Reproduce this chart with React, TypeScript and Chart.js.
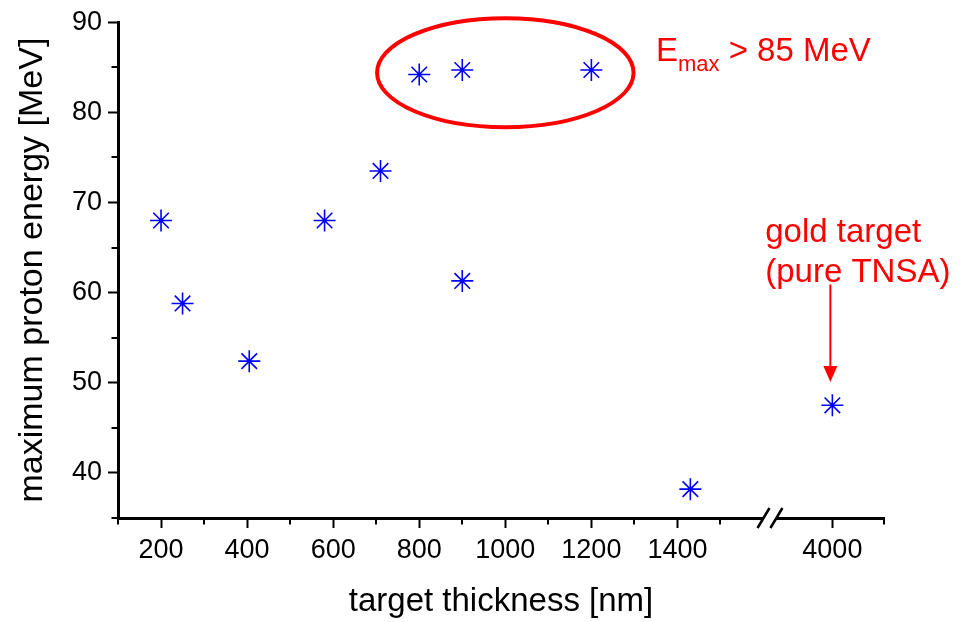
import React, { useEffect, useRef } from "react";
import { Chart, registerables } from "chart.js";

Chart.register(...registerables);

// ---------------- data ----------------
const thicknessNm: number[] = [200, 250, 405, 580, 710, 800, 900, 1200, 900, 1430, 4000];
const maxProtonEnergyMeV: number[] = [68.0, 58.8, 52.4, 68.0, 73.5, 84.2, 84.7, 84.7, 61.3, 38.2, 47.5];

// ---------------- axes ----------------
const xMajorTicks: number[] = [200, 400, 600, 800, 1000, 1200, 1400, 4000];
const xMinorTicks: number[] = [100, 300, 500, 700, 900, 1100, 1300, 1500, 4120];
const yMajorTicks: number[] = [40, 50, 60, 70, 80, 90];
const yMinorTicks: number[] = [35, 45, 55, 65, 75, 85];
const xRange: number[] = [100, 4120];
const yRange: number[] = [35, 90];

const xTitle = "target thickness [nm]";
const yTitle = "maximum proton energy [MeV]";

// axis break: real thickness values between breakFrom and breakTo are cut out
const breakFrom = 1600;
const breakTo = 3870;
const breakGap = 30; // display units the break symbol occupies

const toDisplay = (x: number) => (x <= breakFrom ? x : x - (breakTo - breakFrom) + breakGap);
const fromDisplay = (d: number) => (d <= breakFrom ? d : d + (breakTo - breakFrom) - breakGap);

// ---------------- annotations (display-x units, MeV) ----------------
const ellipseCenter: number[] = [1000, 84.4];
const ellipseRadii: number[] = [298, 6.05];
const emaxLabelPos: number[] = [1350, 85.7];
const goldLabelPos: number[] = [1604, 65.6];
const goldLabelLines: string[] = ["gold target", "(pure TNSA)"];
const arrowX = 4000;
const arrowY: number[] = [60.9, 50.1];

const FONT = '"Liberation Sans", Arial, Helvetica, sans-serif';
const RED = "#ff0000";
const BLUE = "#0000ff";

const overlayPlugin = {
  id: "overlay",
  afterDraw(chart: any) {
    const { ctx, chartArea: ca } = chart;
    const xs = chart.scales.x;
    const ys = chart.scales.y;
    ctx.save();

    // minor ticks
    ctx.strokeStyle = "#000";
    ctx.lineWidth = 2;
    ctx.beginPath();
    for (const v of xMinorTicks) {
      const px = Math.round(xs.getPixelForValue(toDisplay(v)));
      ctx.moveTo(px, ca.bottom);
      ctx.lineTo(px, ca.bottom + 6.5);
    }
    for (const v of yMinorTicks) {
      const py = Math.round(ys.getPixelForValue(v));
      ctx.moveTo(ca.left, py);
      ctx.lineTo(ca.left - 6.5, py);
    }
    ctx.stroke();

    // axis break
    const b1 = xs.getPixelForValue(breakFrom);
    const b2 = xs.getPixelForValue(breakFrom + breakGap);
    ctx.fillStyle = "#fff";
    ctx.fillRect(b1, ca.bottom - 3, b2 - b1, 6);
    ctx.beginPath();
    for (const b of [b1, b2]) {
      ctx.moveTo(b - 6, ca.bottom + 10);
      ctx.lineTo(b + 6, ca.bottom - 10);
    }
    ctx.lineWidth = 2.5;
    ctx.strokeStyle = "#000";
    ctx.stroke();

    // ellipse
    const ecx = xs.getPixelForValue(ellipseCenter[0]);
    const ecy = ys.getPixelForValue(ellipseCenter[1]);
    const erx = Math.abs(xs.getPixelForValue(ellipseCenter[0] + ellipseRadii[0]) - ecx);
    const ery = Math.abs(ys.getPixelForValue(ellipseCenter[1] + ellipseRadii[1]) - ecy);
    ctx.beginPath();
    ctx.ellipse(ecx, ecy, erx, ery, 0, 0, Math.PI * 2);
    ctx.strokeStyle = RED;
    ctx.lineWidth = 4;
    ctx.stroke();

    // E_max label
    ctx.fillStyle = RED;
    ctx.textBaseline = "alphabetic";
    ctx.textAlign = "left";
    let tx = xs.getPixelForValue(emaxLabelPos[0]);
    const ty = ys.getPixelForValue(emaxLabelPos[1]);
    ctx.font = `33px ${FONT}`;
    ctx.fillText("E", tx, ty);
    tx += ctx.measureText("E").width;
    ctx.font = `22px ${FONT}`;
    ctx.fillText("max", tx, ty + 10);
    tx += ctx.measureText("max").width;
    ctx.font = `33px ${FONT}`;
    ctx.fillText(" > 85 MeV", tx, ty);

    // gold target label
    const gx = xs.getPixelForValue(goldLabelPos[0]);
    const gy = ys.getPixelForValue(goldLabelPos[1]);
    ctx.font = `33px ${FONT}`;
    goldLabelLines.forEach((line, i) => ctx.fillText(line, gx, gy + i * 40));

    // arrow
    const ax = xs.getPixelForValue(toDisplay(arrowX)) - 2;
    const ay1 = ys.getPixelForValue(arrowY[0]);
    const ay2 = ys.getPixelForValue(arrowY[1]);
    ctx.beginPath();
    ctx.moveTo(ax, ay1);
    ctx.lineTo(ax, ay2 - 14);
    ctx.strokeStyle = RED;
    ctx.lineWidth = 2;
    ctx.stroke();
    ctx.beginPath();
    ctx.moveTo(ax - 7, ay2 - 16);
    ctx.lineTo(ax + 7, ay2 - 16);
    ctx.lineTo(ax, ay2);
    ctx.closePath();
    ctx.fill();

    ctx.restore();
  },
};

export default function App() {
  const canvasRef = useRef<HTMLCanvasElement | null>(null);

  useEffect(() => {
    const canvas = canvasRef.current;
    if (!canvas) return;
    const chart = new Chart(canvas, {
      type: "scatter",
      data: {
        datasets: [
          {
            label: "max proton energy",
            data: thicknessNm.map((x, i) => ({ x: toDisplay(x), y: maxProtonEnergyMeV[i] })),
            pointStyle: "star",
            pointRadius: 11,
            pointHoverRadius: 11,
            borderColor: BLUE,
            backgroundColor: BLUE,
            borderWidth: 1.6,
          },
        ],
      },
      options: {
        animation: false,
        responsive: false,
        devicePixelRatio: 1,
        layout: { padding: { left: 0, top: 19, right: 82, bottom: 0 } },
        plugins: { legend: { display: false }, tooltip: { enabled: false } },
        scales: {
          x: {
            type: "linear",
            min: toDisplay(xRange[0]),
            max: toDisplay(xRange[1]),
            afterBuildTicks: (s: any) => {
              s.ticks = xMajorTicks.map((v) => ({ value: toDisplay(v) }));
            },
            afterFit: (s: any) => {
              s.height = 104;
            },
            ticks: {
              autoSkip: false,
              maxRotation: 0,
              minRotation: 0,
              padding: 6,
              color: "#000",
              font: { size: 27, family: FONT },
              callback: (v: any) => String(fromDisplay(Number(v))),
            },
            grid: {
              display: true,
              drawOnChartArea: false,
              drawTicks: true,
              tickLength: 10,
              tickWidth: 2,
              tickColor: "#000",
            },
            border: { display: true, color: "#000", width: 3 },
            title: {
              display: true,
              text: xTitle,
              color: "#000",
              font: { size: 33, family: FONT },
              padding: { top: 0, bottom: 0 },
            },
          },
          y: {
            type: "linear",
            min: yRange[0],
            max: yRange[1],
            afterBuildTicks: (s: any) => {
              s.ticks = yMajorTicks.map((v) => ({ value: v }));
            },
            afterFit: (s: any) => {
              s.width = 118;
            },
            ticks: {
              autoSkip: false,
              padding: 6,
              color: "#000",
              font: { size: 27, family: FONT },
              callback: (v: any) => String(v),
            },
            grid: {
              display: true,
              drawOnChartArea: false,
              drawTicks: true,
              tickLength: 10,
              tickWidth: 2,
              tickColor: "#000",
            },
            border: { display: true, color: "#000", width: 3 },
            title: {
              display: true,
              text: yTitle,
              color: "#000",
              font: { size: 34, family: FONT },
              padding: { top: 12, bottom: 0 },
            },
          },
        },
      },
      plugins: [overlayPlugin],
    } as any);
    return () => chart.destroy();
  }, []);

  return (
    <div style={{ position: "absolute", left: 0, top: 0, width: 966, height: 622, background: "#fff" }}>
      <canvas ref={canvasRef} width={966} height={622} style={{ display: "block" }} />
    </div>
  );
}
